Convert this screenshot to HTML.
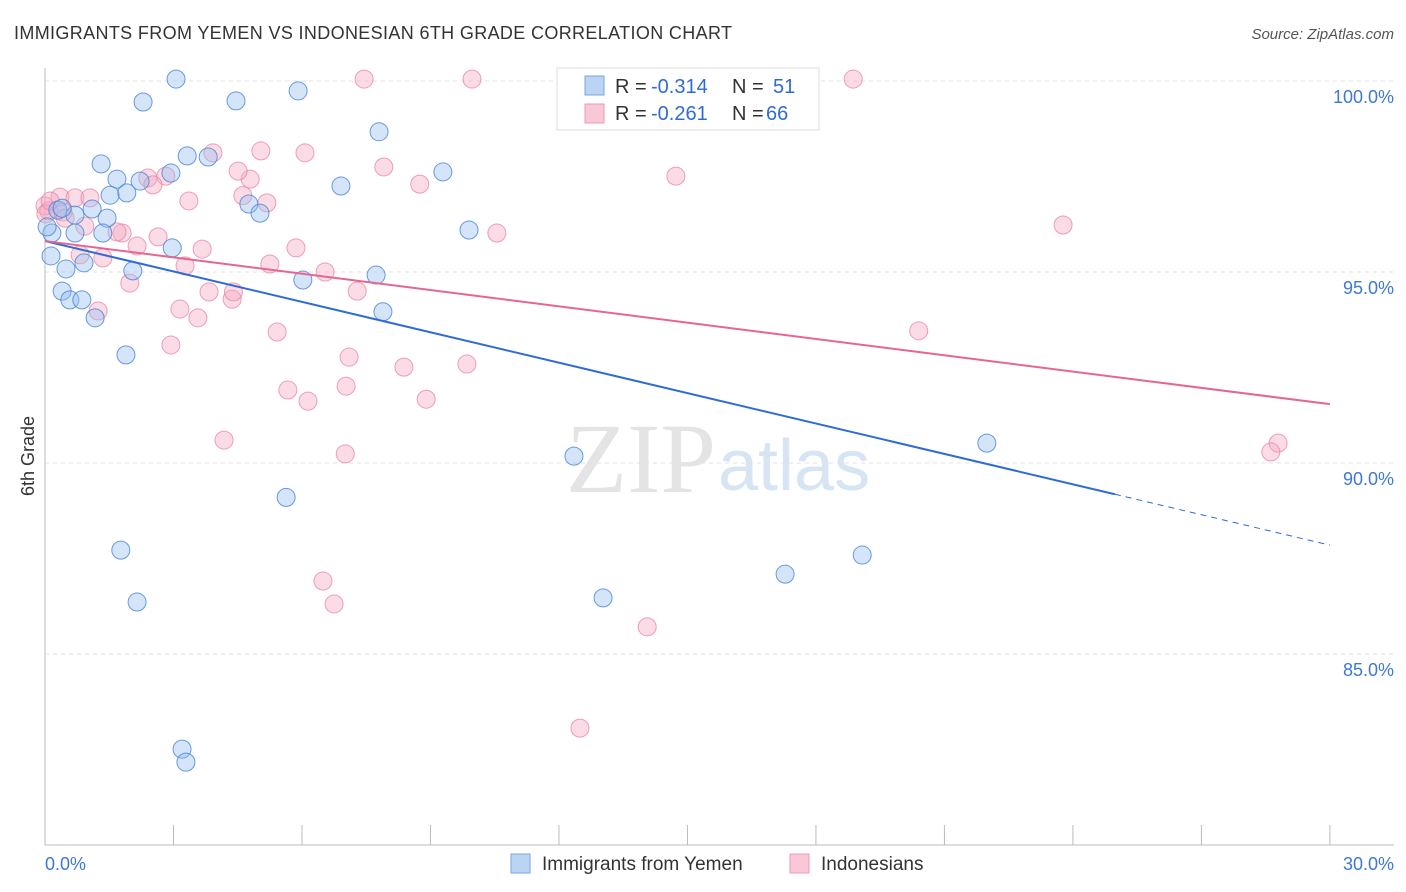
<!DOCTYPE html>
<html><head><meta charset="utf-8"><style>
body{margin:0;background:#fff;font-family:"Liberation Sans",sans-serif}
svg{display:block}
</style></head><body>
<svg id="c" width="1406" height="892">
<text x="14" y="39" font-size="18" fill="#333" textLength="718">IMMIGRANTS FROM YEMEN VS INDONESIAN 6TH GRADE CORRELATION CHART</text>
<text x="1394" y="39" font-size="15" fill="#555" text-anchor="end" font-style="italic">Source: ZipAtlas.com</text>
<text x="716" y="492" font-size="100" fill="#e4e4e4" text-anchor="end" font-family="Liberation Serif">ZIP</text>
<text x="718" y="490" font-size="72" fill="#d6e4f4">atlas</text>
<text transform="translate(34,456) rotate(-90)" font-size="18" fill="#333" text-anchor="middle">6th Grade</text>
<g id="grid"></g><g id="pts"></g><g id="lines"></g>
<g>
<rect x="557" y="68" width="262" height="62" fill="#fff" stroke="#ddd"/>
<rect x="585" y="76" width="19" height="19" fill="#bcd4f4" stroke="#7aa6e0"/>
<rect x="585" y="104" width="19" height="19" fill="#f8c8d6" stroke="#ee9ab4"/>
<text y="93" font-size="20" fill="#333"><tspan x="615">R =</tspan><tspan x="651" fill="#2f6bd6">-0.314</tspan><tspan x="732">N =</tspan><tspan x="773" fill="#2f6bd6">51</tspan></text>
<text y="120" font-size="20" fill="#333"><tspan x="615">R =</tspan><tspan x="651" fill="#2f6bd6">-0.261</tspan><tspan x="732">N =</tspan><tspan x="766" fill="#2f6bd6">66</tspan></text>
</g>
<g>
<rect x="511" y="854" width="19" height="19" fill="#bcd4f4" stroke="#7aa6e0"/>
<text x="542" y="870" font-size="19" fill="#333">Immigrants from Yemen</text>
<rect x="790" y="854" width="19" height="19" fill="#f8c8d6" stroke="#ee9ab4"/>
<text x="821" y="870" font-size="19" fill="#333">Indonesians</text>
</g>
<text x="45" y="870" font-size="18" fill="#3d78d8">0.0%</text>
<text x="1394" y="870" font-size="18" fill="#3d78d8" text-anchor="end">30.0%</text>
</svg>
<script>
const yTicks=[100,95,90,85];
const xTicks=[0,3,6,9,12,15,18,21,24,27,30];
const blueX=[3.06,2.29,4.46,5.91,7.80,1.31,3.32,3.81,1.68,2.22,2.94,6.91,9.29,1.52,1.91,4.76,5.02,9.90,1.10,1.45,0.30,0.70,0.16,0.70,1.35,2.97,0.14,0.49,0.91,2.05,7.73,6.02,0.40,0.58,0.86,1.17,7.89,1.89,21.99,12.35,5.63,1.77,2.15,13.03,17.28,19.08,3.20,3.29,0.05,0.40];
const blueY=[100.05,99.45,99.48,99.74,98.67,97.83,98.04,98.01,97.43,97.38,97.59,97.25,97.62,97.01,97.07,96.78,96.54,96.10,96.65,96.41,96.62,96.49,96.02,96.02,96.02,95.63,95.42,95.08,95.24,95.03,94.92,94.79,94.50,94.27,94.27,93.80,93.96,92.83,90.52,90.18,89.10,87.72,86.36,86.47,87.09,87.59,82.51,82.17,96.18,96.67];
const pinkX=[7.45,9.97,18.87,0,0.35,0.70,1.05,0.09,0.42,0.47,0.02,0.93,2.40,2.82,2.52,4.79,4.51,5.04,6.07,3.92,7.91,8.75,14.73,3.36,5.18,4.62,1.80,2.15,2.64,3.67,5.86,23.77,10.55,0.82,1.35,1.98,3.27,5.25,6.54,7.29,3.83,4.37,4.40,3.15,3.57,1.24,5.42,2.94,7.10,8.38,9.85,7.03,5.67,6.14,8.90,4.18,7.01,20.40,28.79,28.62,6.49,6.75,14.06,12.49,1.68,0.12];
const pinkY=[100.05,100.05,100.05,96.73,96.96,96.94,96.94,96.60,96.57,96.41,96.52,96.20,97.46,97.51,97.28,97.43,97.64,98.17,98.12,98.12,97.75,97.30,97.51,96.86,96.81,97.00,96.02,95.68,95.92,95.60,95.63,96.23,96.02,95.45,95.37,94.71,95.16,95.21,95.00,94.50,94.48,94.29,94.48,94.03,93.80,93.98,93.43,93.09,92.77,92.51,92.59,92.01,91.91,91.62,91.67,90.60,90.24,93.46,90.52,90.29,86.91,86.31,85.71,83.06,96.05,96.86];
const trend={bY0:95.81,bY1:87.85,bSolidEnd:24.98,pY0:95.81,pY1:91.54};
const X=v=>45+v*42.83, Y=v=>81+(100-v)*38.2;
const NS='http://www.w3.org/2000/svg';
function mk(t,a,p){const e=document.createElementNS(NS,t);for(const k in a)e.setAttribute(k,a[k]);document.getElementById(p).appendChild(e);return e;}
yTicks.forEach(t=>{
 const l=mk('line',{x1:45,x2:1394,y1:Y(t),y2:Y(t),stroke:'#e2e2e2','stroke-dasharray':'4 4'},'grid');
 
 
 const tx=mk('text',{x:1394,y:Y(t)+22,'font-size':18,fill:'#3d78d8','text-anchor':'end'},'grid');
 tx.textContent=t.toFixed(1)+'%';
 
 
});
mk('line',{x1:45,x2:45,y1:68,y2:845,stroke:'#bbb'},'grid');
mk('line',{x1:45,x2:1394,y1:845,y2:845,stroke:'#bbb'},'grid');
xTicks.forEach(t=>{
 const l=mk('line',{x1:X(t),x2:X(t),y1:825,y2:845,stroke:'#bbb'},'grid');
 
 
});
pinkX.forEach((x,i)=>{
 const c=mk('circle',{cx:X(x),cy:Y(pinkY[i]),r:9,fill:'rgba(246,168,192,0.4)',stroke:'rgba(232,130,160,0.75)','stroke-width':1},'pts');
 
 
});
blueX.forEach((x,i)=>{
 const c=mk('circle',{cx:X(x),cy:Y(blueY[i]),r:9,fill:'rgba(150,190,240,0.4)',stroke:'rgba(70,130,215,0.8)','stroke-width':1},'pts');
 
 
});
const bAt=x=>trend.bY0+(trend.bY1-trend.bY0)*x/30;
let l=mk('line',{x1:X(0),y1:Y(trend.bY0),x2:X(trend.bSolidEnd),y2:Y(bAt(trend.bSolidEnd)),stroke:'#2f6bd6','stroke-width':2},'lines');


l=mk('line',{x1:X(trend.bSolidEnd),y1:Y(bAt(trend.bSolidEnd)),x2:X(30),y2:Y(trend.bY1),stroke:'#2f6bd6','stroke-width':1,'stroke-dasharray':'6 5'},'lines');


l=mk('line',{x1:X(0),y1:Y(trend.pY0),x2:X(30),y2:Y(trend.pY1),stroke:'#e5668f','stroke-width':2},'lines');


</script>
</body></html>
